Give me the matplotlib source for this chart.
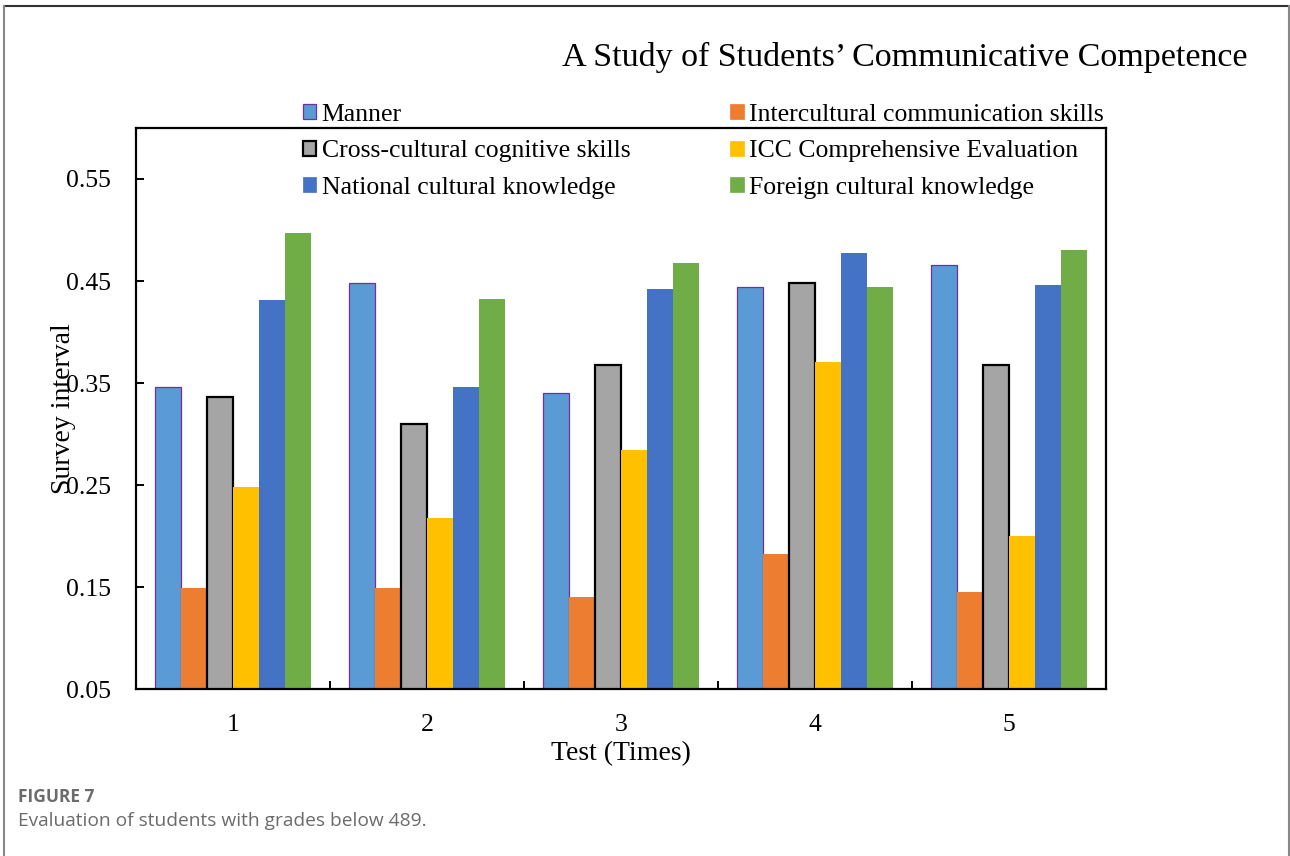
import numpy as np
import matplotlib
matplotlib.use("Agg")
import matplotlib.pyplot as plt
from matplotlib.lines import Line2D
from matplotlib.patches import Patch

# Survey results per test round
tests = ["1", "2", "3", "4", "5"]
series_names = [
    "Manner",
    "Intercultural communication skills",
    "Cross-cultural cognitive skills",
    "ICC Comprehensive Evaluation",
    "National cultural knowledge",
    "Foreign cultural knowledge",
]
manner = [0.346, 0.448, 0.340, 0.444, 0.466]
intercultural = [0.149, 0.149, 0.140, 0.182, 0.145]
cross_cultural = [0.336, 0.310, 0.368, 0.448, 0.368]
icc_evaluation = [0.248, 0.218, 0.284, 0.371, 0.200]
national = [0.431, 0.346, 0.442, 0.477, 0.446]
foreign = [0.497, 0.432, 0.468, 0.444, 0.480]
y_ticks = [0.05, 0.15, 0.25, 0.35, 0.45, 0.55]

series = [manner, intercultural, cross_cultural, icc_evaluation, national, foreign]
fills = ["#5B9BD5", "#ED7D31", "#A5A5A5", "#FFC000", "#4472C4", "#70AD47"]
edges = ["#7030A0", "#ED7D31", "#000000", "#FFC000", "#4472C4", "#70AD47"]
edge_widths = [0.9, 0.0, 1.6, 0.0, 0.0, 0.0]

W, H = 1290, 856
fig = plt.figure(figsize=(W / 100, H / 100), dpi=100)
fig.patch.set_facecolor("white")

serif = ["Liberation Serif", "DejaVu Serif"]

ax = fig.add_axes([136 / W, 1 - 689 / H, (1106 - 136) / W, (689 - 128) / H])

x = np.arange(1, len(tests) + 1)
n = len(series)
bar_w = 0.8 / n
for i, (vals, fc, ec, lw) in enumerate(zip(series, fills, edges, edge_widths)):
    offs = (i - (n - 1) / 2) * bar_w
    ax.bar(x + offs, vals, width=bar_w, color=fc,
           edgecolor=ec if lw > 0 else "none", linewidth=lw, zorder=2)

ax.set_xlim(0.5, 5.5)
ax.set_ylim(0.05, 0.6)
ax.set_yticks(y_ticks)
ax.set_yticklabels([f"{v:.2f}" for v in y_ticks], fontfamily=serif, fontsize=18.5)
ax.set_xticks(x)
ax.set_xticklabels(tests, fontfamily=serif, fontsize=18.5)
ax.set_xticks(np.arange(0.5, 6.0, 1.0), minor=True)
ax.tick_params(axis="x", which="major", length=0, pad=18)
ax.tick_params(axis="x", which="minor", direction="in", length=6, width=1.4)
ax.tick_params(axis="y", which="major", direction="in", length=6, width=1.4, pad=18)

for sp in ax.spines.values():
    sp.set_linewidth(1.6)
    sp.set_color("black")

ax.set_xlabel("Test (Times)", fontfamily=serif, fontsize=20, labelpad=4)
ax.set_ylabel("Survey interval", fontfamily=serif, fontsize=20)
ax.yaxis.set_label_coords((76 - 136) / (1106 - 136), 0.5)

handles = [Patch(facecolor=fc, edgecolor=ec if lw > 0 else fc, linewidth=max(lw, 0.5))
           for fc, ec, lw in zip(fills, edges, edge_widths)]
order = [0, 2, 4, 1, 3, 5]
leg = fig.legend([handles[i] for i in order], [series_names[i] for i in order],
                 ncol=2, loc="upper left",
                 bbox_to_anchor=(303 / W, 1 - 104 / H),
                 frameon=False, prop={"family": serif, "size": 18.5},
                 handlelength=0.52, handleheight=0.52, handletextpad=0.2,
                 columnspacing=3.9, labelspacing=0.56, borderaxespad=0, borderpad=0)

fig.text(1248 / W, 1 - 57 / H, "A Study of Students\u2019 Communicative Competence",
         ha="right", va="center", fontfamily=serif, fontsize=24.5)

# caption below the chart
fig.text(18 / W, 1 - 797 / H, "FIGURE 7", ha="left", va="center",
         fontfamily=["Open Sans", "DejaVu Sans"], fontsize=12.5, fontweight="bold", color="#6b6b6b")
fig.text(18 / W, 1 - 821 / H, "Evaluation of students with grades below 489.", ha="left", va="center",
         fontfamily=["Open Sans", "DejaVu Sans"], fontsize=13.8, color="#6b6b6b")

# outer frame (top, left, right)
fig.add_artist(Line2D([4 / W, 1289 / W], [1 - 6 / H, 1 - 6 / H], transform=fig.transFigure,
                      color="#333333", linewidth=1.5))
fig.add_artist(Line2D([4 / W, 4 / W], [1 - 6 / H, 0], transform=fig.transFigure,
                      color="#888888", linewidth=1.5))
fig.add_artist(Line2D([1289 / W, 1289 / W], [1 - 6 / H, 0], transform=fig.transFigure,
                      color="#888888", linewidth=1.5))

fig.savefig("out.png", dpi=100)
